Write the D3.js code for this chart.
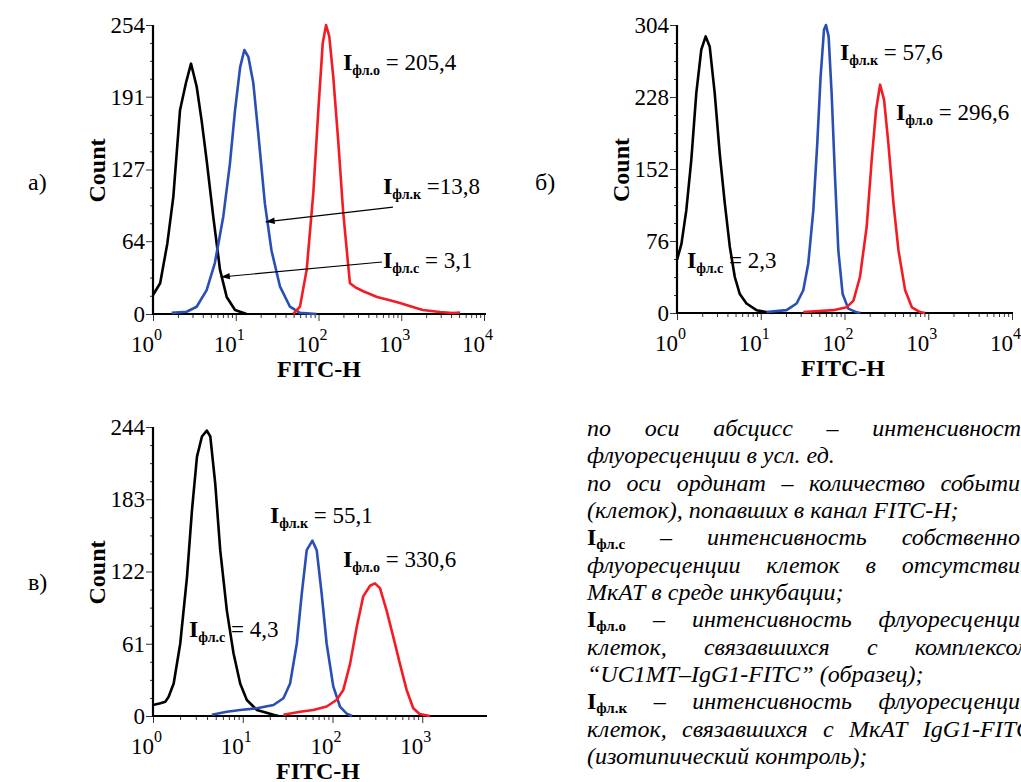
<!DOCTYPE html>
<html>
<head>
<meta charset="utf-8">
<script src="https://cdn.jsdelivr.net/npm/d3@7"></script>
<style>
  body { margin: 0; background: #fff; }
  svg text { font-family: "Liberation Serif", "Times New Roman", serif; fill: #000; }
</style>
</head>
<body>
<svg id="fig" width="1021" height="782"></svg>
<script>
// ---- data: [FITC-H, count] ----
// panel а)
var aSelf = [[1,16.7],[1.22,27],[1.49,62],[1.76,103],[2.12,179],[2.5,203],[2.88,220],[3.37,200],[3.87,170],[4.45,135],[5.36,85],[6.45,39],[7.77,15],[9.8,3.5],[13.5,0]];
var aIso = [[1.68,1],[2.55,2],[3.37,6.4],[4.45,21],[5.6,45],[7.08,86],[8.5,132],[9.8,179],[11.3,217],[12.7,232],[14.2,226],[16.3,203],[18.7,159],[22.5,97],[27,56],[34.3,24],[45.2,6.4],[59.7,1],[95,0]];
var aSample = [[49.6,0],[59.7,6.4],[72,39],[86.5,106],[99.5,179],[112.5,238],[123.5,254],[135,244],[151,208],[174,150],[198,91],[229,42],[240,27],[276,23.7],[347,20],[510,15],[728,12],[966,9.7],[1260,7],[1820,3.5],[2930,1.8],[4240,0.9],[5130,1.3]];
// panel б)
var bSelf = [[1,56],[1.13,73],[1.29,108],[1.48,161],[1.7,232],[1.95,278],[2.2,292],[2.46,281],[2.82,232],[3.24,168],[3.72,116],[4.27,70],[4.9,38],[5.62,20],[6.76,10],[8.9,3],[11.7,1],[14,0]];
var bIso = [[11.7,1],[20.3,3],[26.8,10],[32.2,24],[36.9,52],[42.4,108],[47.3,179],[51.8,249],[56.9,299],[60.1,304],[64.6,292],[70.2,232],[77,144],[84.4,66],[95,20],[111,4.6],[140,0.7],[155,0]];
var bSample = [[32.2,1],[73.5,3],[106,6],[128,13],[153,38],[184,91],[211,161],[238,214],[266,241],[297,225],[334,179],[384,116],[441,66],[530,24],[637,6],[800,1],[919,0]];
// panel в)
var cSelf = [[1,9.3],[1.21,10.7],[1.37,12],[1.49,16],[1.7,27.5],[2.01,61],[2.39,117],[2.72,174],[3.09,219],[3.51,236],[3.98,241],[4.35,236],[4.94,196],[5.61,140],[6.65,89],[7.89,53],[9.36,27.5],[11.1,13.5],[14.4,5],[22,1],[25,0]];
var cIso = [[4.53,1],[6.65,3.6],[9.36,5],[14.4,6.5],[22,9.3],[28.4,15],[33.7,27.5],[40,61],[45.4,103],[51.6,140],[59.7,148],[66.7,140],[75.8,103],[86.1,61],[102,25],[121,8],[144,2],[165,0]];
var cSample = [[28.4,1],[43.5,3.6],[61.2,5],[86.1,8],[111,13.5],[132,22],[157,44],[186,75],[220,101],[262,110],[297,112],[338,108],[401,89],[475,67],[564,44],[670,22],[794,6.5],[935,1.7],[1216,0]];

// tick labels
var aYTicks = [0, 64, 127, 191, 254];
var bYTicks = [0, 76, 152, 228, 304];
var cYTicks = [0, 61, 122, 183, 244];
var xDecades = [0, 1, 2, 3, 4];
var cDecades = [0, 1, 2, 3];

// intensity labels
var aLabels = [["фл.о", " = 205,4"], ["фл.к", " =13,8"], ["фл.с", " = 3,1"]];
var bLabels = [["фл.к", " = 57,6"], ["фл.о", " = 296,6"], ["фл.с", " = 2,3"]];
var cLabels = [["фл.к", " = 55,1"], ["фл.о", " = 330,6"], ["фл.с", " = 4,3"]];

// legend text on the right
var noteLines = [
  "по оси абсцисс – интенсивность",
  "флуоресценции в усл. ед.",
  "по оси ординат – количество событий",
  "(клеток), попавших в канал FITC-H;",
  "Iфл.с – интенсивность собственной",
  "флуоресценции клеток в отсутствии",
  "МкАТ в среде инкубации;",
  "Iфл.о – интенсивность флуоресценции",
  "клеток, связавшихся с комплексом",
  "“UC1MT–IgG1-FITC” (образец);",
  "Iфл.к – интенсивность флуоресценции",
  "клеток, связавшихся с МкАТ IgG1-FITC",
  "(изотипический контроль);"
];
var noteJustified = [true, false, true, false, true, true, false, true, true, false, true, true, false];

var colors = { self: "#000000", iso: "#2a4fb4", sample: "#f41c24" };
var svg = d3.select("#fig");

/**
 * Draws one histogram panel: axes, tick labels and the three curves
 */
function drawPanel(p) {
    var x = d3.scaleLog().domain([1, 1e4]).range(p.xRange);
    var y = d3.scaleLinear().domain([0, p.yTicks[p.yTicks.length - 1]]).range(p.yRange);
    var g = svg.append("g");
    var x0 = p.xRange[0];
    var y0 = p.yRange[0];

    //minor y ticks, three between each labelled tick
    var minorY = [];
    for (var i = 0; i < p.yTicks.length - 1; i++) {
        var step = (p.yTicks[i + 1] - p.yTicks[i]) / 4;
        for (var k = 1; k < 4; k++) minorY.push(p.yTicks[i] + k * step);
    }
    g.append("g").attr("transform", "translate(" + x0 + ",0)")
        .call(d3.axisLeft(y).tickValues(minorY).tickSize(3).tickFormat(""))
        .call(a => a.select(".domain").remove());
    var ya = g.append("g").attr("transform", "translate(" + x0 + ",0)")
        .call(d3.axisLeft(y).tickValues(p.yTicks).tickSize(7).tickPadding(1))
        .call(a => a.select(".domain").remove());
    ya.attr("font-family", null).attr("font-size", null);
    ya.selectAll("text").attr("font-size", 23);

    //log minor ticks on x
    var minorX = [];
    p.decades.slice(0, -1).forEach(function (d) {
        for (var m = 2; m < 10; m++) minorX.push(m * Math.pow(10, d));
    });
    var majorX = p.decades.map(d => Math.pow(10, d));
    g.append("g").attr("transform", "translate(0," + y0 + ")")
        .call(d3.axisBottom(x).tickValues(minorX).tickSize(4).tickFormat(""))
        .call(a => a.select(".domain").remove());
    g.append("g").attr("transform", "translate(0," + y0 + ")")
        .call(d3.axisBottom(x).tickValues(majorX).tickSize(7).tickFormat(""))
        .call(a => a.select(".domain").remove());
    g.selectAll(".tick line").attr("stroke", "#333");

    //axis lines
    g.append("line").attr("x1", x0).attr("x2", x0)
        .attr("y1", y0).attr("y2", p.yRange[1])
        .attr("stroke", "#000").attr("stroke-width", 2.2);
    g.append("line").attr("x1", x0 - 1).attr("x2", p.axisEnd)
        .attr("y1", y0).attr("y2", y0)
        .attr("stroke", "#000").attr("stroke-width", 2.2);

    //x tick labels 10^n
    p.decades.forEach(function (d) {
        var px = x(Math.pow(10, d));
        g.append("text").attr("x", px + 1).attr("y", y0 + 38)
            .attr("text-anchor", "end").attr("font-size", 23).text("10");
        g.append("text").attr("x", px + 1).attr("y", y0 + 26)
            .attr("font-size", 16).text(d);
    });

    //axis titles
    g.append("text")
        .attr("transform", "translate(" + p.countX + "," + ((p.yRange[0] + p.yRange[1]) / 2 + 1) + ") rotate(-90)")
        .attr("text-anchor", "middle").attr("font-weight", "bold").attr("font-size", 24)
        .text("Count");
    g.append("text").attr("x", p.titleX).attr("y", y0 + 63)
        .attr("text-anchor", "middle").attr("font-weight", "bold").attr("font-size", 24)
        .text("FITC-H");

    //panel letter
    g.append("text").attr("x", p.letterX).attr("y", p.letterY)
        .attr("font-size", 24).text(p.letter);

    //curves
    var line = d3.line().x(d => x(d[0])).y(d => y(d[1]));
    [["self", p.self], ["iso", p.iso], ["sample", p.sample]].forEach(function (c) {
        g.append("path").datum(c[1])
            .attr("d", line)
            .attr("fill", "none")
            .attr("stroke", colors[c[0]])
            .attr("stroke-width", 2.6)
            .attr("stroke-linejoin", "round");
    });

    //intensity labels
    p.labels.forEach(function (l, i) {
        var pos = p.labelPos[i];
        var t = g.append("text").attr("x", pos[0]).attr("y", pos[1]).attr("font-size", 23);
        t.append("tspan").attr("font-weight", "bold").attr("font-size", 24).text("I");
        t.append("tspan").attr("font-weight", "bold").attr("font-size", 14).attr("dy", 5).text(l[0]);
        t.append("tspan").attr("dy", -5).text(l[1]);
    });

    //arrows pointing at the curves
    (p.arrows || []).forEach(function (a) {
        var x1 = x(a[0][0]), y1 = y(a[0][1]), x2 = x(a[1][0]), y2 = y(a[1][1]);
        g.append("line").attr("x1", x1).attr("y1", y1).attr("x2", x2).attr("y2", y2)
            .attr("stroke", "#000").attr("stroke-width", 1.2);
        var ang = Math.atan2(y2 - y1, x2 - x1);
        var L = 9, W = 3.2;
        var bx = x2 - L * Math.cos(ang), by = y2 - L * Math.sin(ang);
        g.append("path")
            .attr("d", "M" + x2 + "," + y2 +
                "L" + (bx - W * Math.sin(ang)) + "," + (by + W * Math.cos(ang)) +
                "L" + (bx + W * Math.sin(ang)) + "," + (by - W * Math.cos(ang)) + "Z")
            .attr("fill", "#000");
    });
}

drawPanel({
    xRange: [153, 484], yRange: [314, 25], axisEnd: 486,
    yTicks: aYTicks, decades: xDecades,
    self: aSelf, iso: aIso, sample: aSample,
    countX: 105, titleX: 319, letter: "а)", letterX: 28, letterY: 190,
    labels: aLabels, labelPos: [[343, 70], [383, 194], [383, 268]],
    arrows: [[[794, 94], [23, 81]], [[585, 45.7], [6.6, 32.5]]]
});
drawPanel({
    xRange: [677, 1012], yRange: [313, 25], axisEnd: 1013,
    yTicks: bYTicks, decades: xDecades,
    self: bSelf, iso: bIso, sample: bSample,
    countX: 629, titleX: 843, letter: "б)", letterX: 535, letterY: 190,
    labels: bLabels, labelPos: [[840, 60], [896, 120], [687, 268]]
});
drawPanel({
    xRange: [153, 512], yRange: [716, 427], axisEnd: 487,
    yTicks: cYTicks, decades: cDecades,
    self: cSelf, iso: cIso, sample: cSample,
    countX: 105, titleX: 318, letter: "в)", letterX: 28, letterY: 590,
    labels: cLabels, labelPos: [[270, 523], [343, 567], [189, 637]]
});

/**
 * Right-hand legend, justified lines run past the page edge
 */
var noteLeft = 587, noteRight = 1032, noteTop = 436, noteStep = 27.33;
noteLines.forEach(function (txt, i) {
    var yy = noteTop + i * noteStep;
    var g = svg.append("g");
    var words = noteJustified[i] ? txt.split(" ") : [txt];
    var items = words.map(function (w) {
        var t = g.append("text").attr("y", yy).attr("font-size", 24);
        if (w.indexOf("Iфл.") === 0) {
            t.append("tspan").attr("font-weight", "bold").text("I");
            t.append("tspan").attr("font-weight", "bold").attr("font-size", 15).attr("dy", 4).text(w.slice(1));
        } else {
            t.attr("font-style", "italic").text(w);
        }
        return t;
    });
    var widths = items.map(t => t.node().getComputedTextLength());
    var total = d3.sum(widths);
    var gap = items.length > 1 ? (noteRight - noteLeft - total) / (items.length - 1) : 0;
    var cx = noteLeft;
    items.forEach(function (t, j) {
        t.attr("x", cx);
        if (t.selectAll("tspan").size()) t.select("tspan").attr("x", cx);
        cx += widths[j] + gap;
    });
});
</script>
</body>
</html>
